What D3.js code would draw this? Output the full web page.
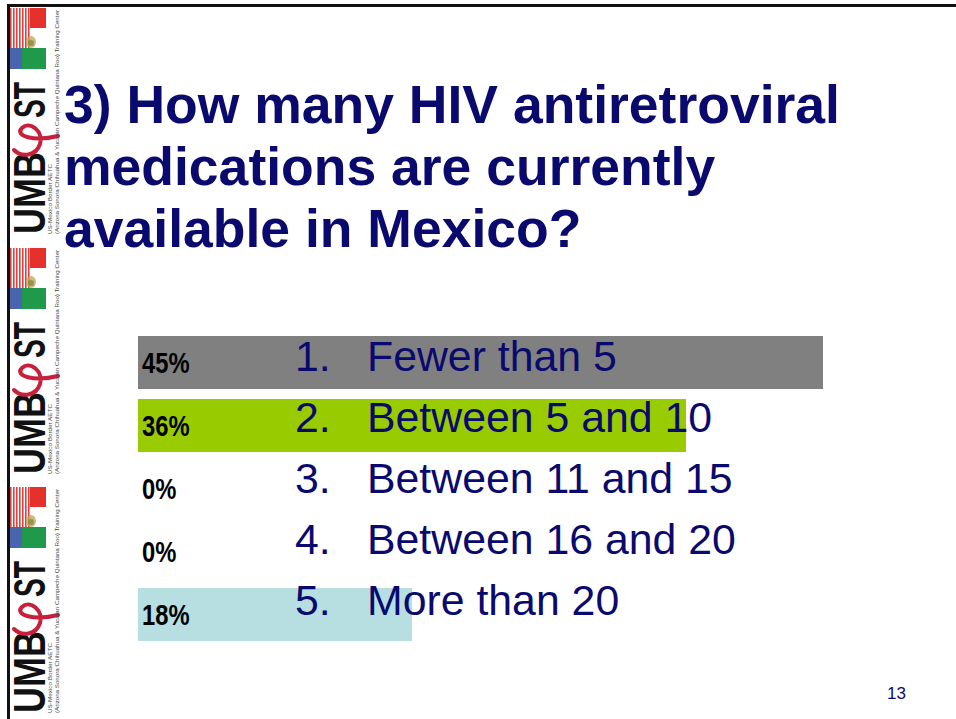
<!DOCTYPE html>
<html>
<head>
<meta charset="utf-8">
<script src="https://cdn.jsdelivr.net/npm/d3@7"></script>
<style>
  html, body { margin: 0; padding: 0; background: #ffffff; }
  svg { display: block; }
</style>
</head>
<body>
<div id="chart"></div>
<script>
// ---- data ----
const titleLines = ["3) How many HIV antiretroviral", "medications are currently", "available in Mexico?"];
const numbers = ["1.", "2.", "3.", "4.", "5."];
const categories = ["Fewer than 5", "Between 5 and 10", "Between 11 and 15", "Between 16 and 20", "More than 20"];
const values = [45, 36, 0, 0, 18];
const barColors = ["#808080", "#99cc00", "#c0504d", "#4f81bd", "#b7dfe2"];
const pageNumber = "13";

const W = 956, H = 719;
const navy = "#0a0a6e";

const svg = d3.select("#chart").append("svg")
  .attr("width", W).attr("height", H)
  .attr("font-family", "'Liberation Sans', Arial, sans-serif");

// ---- slide frame ----
svg.append("rect").attr("x", 7).attr("y", 4).attr("width", W - 7).attr("height", 3).attr("fill", "#111");
svg.append("rect").attr("x", 7).attr("y", 4).attr("width", 3).attr("height", H - 4).attr("fill", "#111");

// ---- left logo strip (decorative, repeated) ----
const tileTops = [8, 248, 487];
tileTops.forEach(t => {
  const g = svg.append("g").attr("transform", `translate(0,${t})`);
  // US flag part: stripes + canton
  for (let i = 0; i < 7; i++) {
    g.append("rect").attr("x", 10 + i * 3).attr("y", 0).attr("width", 1.6).attr("height", 40).attr("fill", "#e0413f");
  }
  g.append("rect").attr("x", 10).attr("y", 40).attr("width", 12).attr("height", 21).attr("fill", "#4a64b0");
  // Mexico flag part
  g.append("rect").attr("x", 30).attr("y", 0).attr("width", 16).attr("height", 20).attr("fill", "#e5302b");
  g.append("rect").attr("x", 22).attr("y", 40).attr("width", 24).attr("height", 21).attr("fill", "#1f9a4a");
  g.append("ellipse").attr("cx", 31).attr("cy", 34).attr("rx", 5).attr("ry", 6).attr("fill", "#c8a65a").attr("opacity", 0.8);
  g.append("ellipse").attr("cx", 31).attr("cy", 35).attr("rx", 3).attr("ry", 3).attr("fill", "#6b8f3a").attr("opacity", 0.7);
  // big UMB / ST lettering, rotated
  g.append("text").attr("transform", "translate(45,226) rotate(-90)")
    .attr("font-size", 44).attr("font-weight", "bold").attr("fill", "#111")
    .attr("textLength", 82).attr("lengthAdjust", "spacingAndGlyphs").text("UMB");
  g.append("text").attr("transform", "translate(45,110) rotate(-90)")
    .attr("font-size", 44).attr("font-weight", "bold").attr("fill", "#111")
    .attr("textLength", 36).attr("lengthAdjust", "spacingAndGlyphs").text("ST");
  // red ribbon
  g.append("path")
    .attr("d", "M14,142 C22,150 36,148 40,136 C44,124 30,112 22,120 C14,128 34,134 58,128")
    .attr("fill", "none").attr("stroke", "#c8203a").attr("stroke-width", 4).attr("stroke-linecap", "round");
  // small caption texts
  g.append("text").attr("transform", "translate(52,226) rotate(-90)")
    .attr("font-size", 4.5).attr("fill", "#444").attr("textLength", 70).attr("lengthAdjust", "spacingAndGlyphs")
    .text("US-Mexico Border AETC");
  g.append("text").attr("transform", "translate(59,226) rotate(-90)")
    .attr("font-size", 4.5).attr("fill", "#444").attr("textLength", 224).attr("lengthAdjust", "spacingAndGlyphs")
    .text("(Arizona Sonora Chihuahua & Yucatan Campeche Quintana Roo) Training Center");
});

// ---- title ----
svg.append("g").selectAll("text").data(titleLines).join("text")
  .attr("x", 64).attr("y", (d, i) => 123 + i * 62)
  .attr("font-size", 53.5).attr("font-weight", "bold").attr("fill", navy)
  .text(d => d);

// ---- scales ----
const x = d3.scaleLinear().domain([0, d3.max(values)]).range([138, 823]);
const y = d3.scaleBand().domain(categories).range([336, 641]).paddingInner(10 / 63).paddingOuter(0);

const rows = categories.map((c, i) => ({ c, v: values[i], n: numbers[i], color: barColors[i], i }));

// bars
svg.append("g").selectAll("rect").data(rows).join("rect")
  .attr("x", x(0)).attr("y", d => y(d.c))
  .attr("width", d => x(d.v) - x(0)).attr("height", y.bandwidth())
  .attr("fill", d => d.color);

// percent labels (condensed bold)
svg.append("g").selectAll("text").data(rows).join("text")
  .attr("transform", d => `translate(142,${y(d.c) + 37}) scale(0.82,1)`)
  .attr("font-size", 29).attr("font-weight", "bold").attr("fill", "#000")
  .text(d => d.v + "%");

// answer text list
const list = svg.append("g");
list.selectAll("text.num").data(rows).join("text").attr("class", "num")
  .attr("x", 295).attr("y", d => 371 + d.i * 61)
  .attr("font-size", 42.8).attr("fill", navy).text(d => d.n);
list.selectAll("text.lab").data(rows).join("text").attr("class", "lab")
  .attr("x", 367).attr("y", d => 371 + d.i * 61)
  .attr("font-size", 42.8).attr("fill", navy).text(d => d.c);

// page number
svg.append("text").attr("x", 887).attr("y", 699)
  .attr("font-size", 17).attr("fill", navy).text(pageNumber);
</script>
</body>
</html>
